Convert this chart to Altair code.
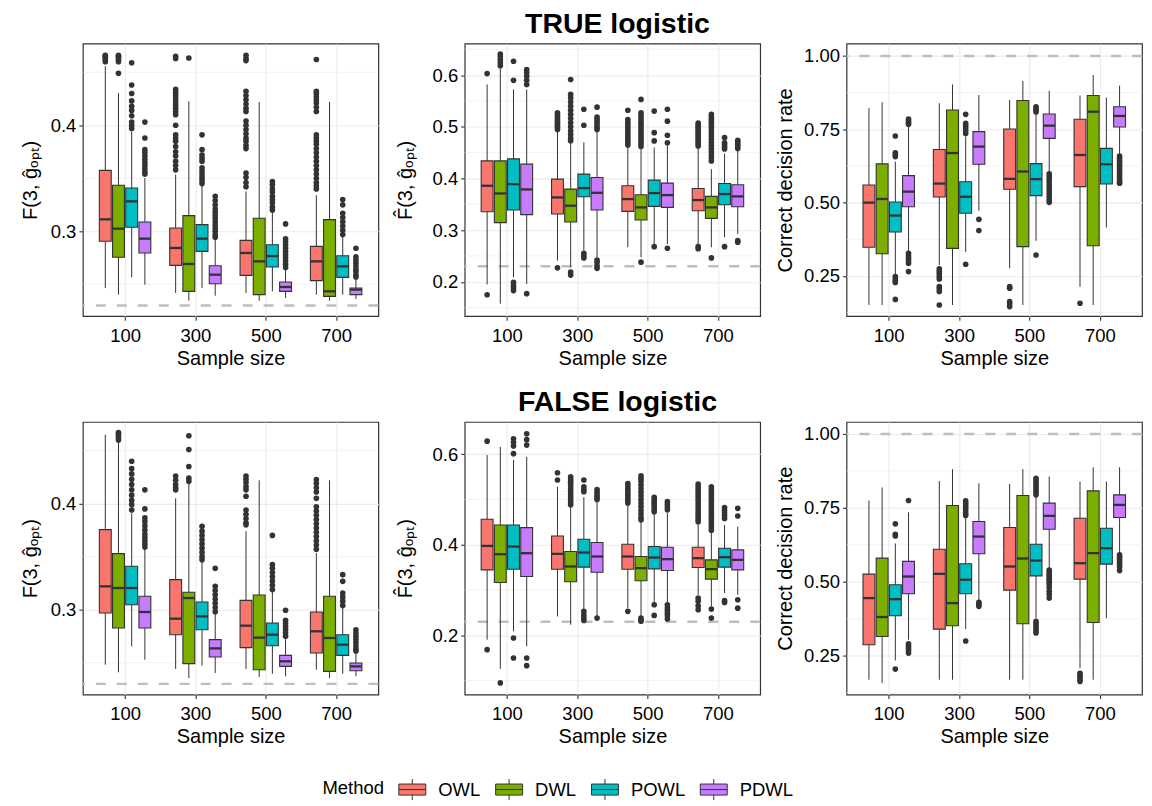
import altair as alt
import pandas as pd

FONT = "Liberation Sans"
SIZES = ["100", "300", "500", "700"]
METHODS = ["OWL", "DWL", "POWL", "PDWL"]
COLORS = ["#F8766D", "#7CAE00", "#00BFC4", "#C77CFF"]

# order of every 16-long array: for size in SIZES, for method in METHODS
# ---------------- TRUE logistic : F(3, g_opt)
T1_Q3 = [0.3575, 0.3434, 0.3409, 0.3088, 0.3031, 0.3148, 0.3063, 0.2676, 0.2915, 0.3123, 0.2874, 0.2522, 0.2858, 0.3110, 0.2770, 0.2465]
T1_MED = [0.3113, 0.3025, 0.3283, 0.2931, 0.2843, 0.2692, 0.2931, 0.2591, 0.2796, 0.2717, 0.2767, 0.2475, 0.2717, 0.2434, 0.2670, 0.2450]
T1_Q1 = [0.2906, 0.2755, 0.3038, 0.2796, 0.2679, 0.2434, 0.2811, 0.2506, 0.2585, 0.2403, 0.2664, 0.2434, 0.2535, 0.2387, 0.2566, 0.2403]
T1_LO = [0.2465, 0.2403, 0.2566, 0.2497, 0.2418, 0.2346, 0.2465, 0.2393, 0.2418, 0.2346, 0.2434, 0.2371, 0.2403, 0.2346, 0.2403, 0.2362]
T1_HI = [0.4557, 0.4305, 0.3940, 0.3503, 0.3535, 0.4226, 0.3434, 0.2931, 0.3377, 0.4220, 0.3173, 0.2654, 0.3340, 0.4220, 0.2950, 0.2555]
T1_OUT = [
    [0.460, 0.462, 0.464, 0.465, 0.466],
    [0.449, 0.460, 0.462, 0.464, 0.465, 0.466],
    [0.459, 0.438, 0.430, 0.423, 0.418, 0.414, 0.409, 0.403, 0.400, 0.397],
    [0.403, 0.388, 0.377, 0.374, 0.371, 0.368, 0.365, 0.362, 0.359, 0.356, 0.354],
    [0.465, 0.463, 0.434, 0.431, 0.428, 0.425, 0.422, 0.419, 0.416, 0.413, 0.410, 0.400, 0.391, 0.388, 0.385, 0.380, 0.375, 0.371, 0.366, 0.362, 0.358],
    [0.4635],
    [0.391, 0.377, 0.372, 0.369, 0.366, 0.360, 0.357, 0.354, 0.351, 0.348, 0.345],
    [0.333, 0.329, 0.325, 0.321, 0.318, 0.315, 0.312, 0.309, 0.306, 0.303, 0.300, 0.297, 0.2945],
    [0.466, 0.463, 0.461, 0.432, 0.428, 0.424, 0.420, 0.416, 0.413, 0.404, 0.400, 0.396, 0.392, 0.388, 0.385, 0.381, 0.378, 0.355, 0.351, 0.346, 0.342],
    [],
    [0.347, 0.344, 0.340, 0.337, 0.333, 0.330, 0.327, 0.323, 0.320],
    [0.307, 0.293, 0.290, 0.287, 0.284, 0.281, 0.278, 0.275, 0.272, 0.269, 0.266],
    [0.462, 0.432, 0.430, 0.427, 0.424, 0.421, 0.417, 0.413, 0.391, 0.388, 0.385, 0.382, 0.378, 0.374, 0.370, 0.366, 0.362, 0.358, 0.354, 0.350, 0.346, 0.343, 0.340],
    [],
    [0.330, 0.325, 0.317, 0.313, 0.309, 0.305, 0.301, 0.297],
    [0.284, 0.276, 0.273, 0.270, 0.267, 0.264, 0.262, 0.259, 0.257],
]

# ---------------- TRUE logistic : F-hat(3, g_opt)
T2_Q3 = [0.434, 0.434, 0.438, 0.4277, 0.3987, 0.3794, 0.4084, 0.402, 0.3859, 0.3685, 0.3968, 0.391, 0.3807, 0.3653, 0.3904, 0.3878]
T2_MED = [0.3859, 0.371, 0.389, 0.3788, 0.3633, 0.3473, 0.3814, 0.3723, 0.3601, 0.344, 0.3717, 0.3678, 0.3582, 0.344, 0.3698, 0.3653]
T2_Q1 = [0.3357, 0.3145, 0.339, 0.33, 0.3312, 0.3158, 0.3646, 0.339, 0.3363, 0.3196, 0.346, 0.344, 0.3376, 0.3228, 0.3492, 0.3453]
T2_LO = [0.195, 0.1576, 0.209, 0.196, 0.241, 0.228, 0.2605, 0.2476, 0.267, 0.2476, 0.2733, 0.273, 0.273, 0.267, 0.286, 0.2926]
T2_HI = [0.582, 0.612, 0.572, 0.572, 0.492, 0.4695, 0.470, 0.492, 0.463, 0.4566, 0.460, 0.463, 0.460, 0.418, 0.448, 0.4534]
T2_OUT = [
    [0.603, 0.175],
    [0.618, 0.624, 0.630, 0.636, 0.641],
    [0.627, 0.590, 0.199, 0.193, 0.188, 0.183],
    [0.611, 0.605, 0.598, 0.590, 0.582, 0.177],
    [0.495, 0.499, 0.503, 0.507, 0.511, 0.515, 0.519, 0.523, 0.527, 0.227],
    [0.5916, 0.563, 0.556, 0.548, 0.540, 0.532, 0.524, 0.516, 0.508, 0.500, 0.492, 0.485, 0.478, 0.473, 0.219, 0.213],
    [0.534, 0.503, 0.255, 0.250, 0.246],
    [0.538, 0.519, 0.514, 0.509, 0.504, 0.499, 0.495, 0.242, 0.238, 0.231, 0.226],
    [0.532, 0.514, 0.509, 0.504, 0.499, 0.494, 0.489, 0.484, 0.479, 0.474, 0.469, 0.465],
    [0.553, 0.527, 0.522, 0.517, 0.512, 0.507, 0.502, 0.497, 0.492, 0.487, 0.482, 0.477, 0.472, 0.467, 0.462, 0.238],
    [0.5305, 0.4887, 0.4727, 0.268],
    [0.534, 0.511, 0.4836, 0.469, 0.265],
    [0.507, 0.503, 0.499, 0.495, 0.491, 0.487, 0.483, 0.479, 0.475, 0.471, 0.467, 0.463, 0.268, 0.264],
    [0.524, 0.519, 0.514, 0.509, 0.504, 0.499, 0.494, 0.488, 0.482, 0.476, 0.470, 0.464, 0.458, 0.452, 0.446, 0.440, 0.434, 0.2463],
    [0.479, 0.469, 0.465, 0.461, 0.457, 0.268],
    [0.474, 0.470, 0.466, 0.462, 0.458, 0.2797, 0.2765],
]

# ---------------- TRUE logistic : correct decision rate
T3_Q3 = [0.560, 0.632, 0.502, 0.592, 0.681, 0.816, 0.571, 0.742, 0.751, 0.848, 0.633, 0.802, 0.784, 0.865, 0.685, 0.827]
T3_MED = [0.500, 0.5125, 0.456, 0.5375, 0.565, 0.669, 0.520, 0.691, 0.581, 0.606, 0.580, 0.7625, 0.6625, 0.810, 0.631, 0.7955]
T3_Q1 = [0.348, 0.326, 0.400, 0.486, 0.519, 0.344, 0.4636, 0.631, 0.5455, 0.350, 0.524, 0.719, 0.5545, 0.353, 0.5636, 0.758]
T3_LO = [0.151, 0.151, 0.253, 0.333, 0.2875, 0.151, 0.331, 0.472, 0.276, 0.151, 0.370, 0.6034, 0.2136, 0.151, 0.415, 0.660]
T3_HI = [0.822, 0.842, 0.640, 0.759, 0.839, 0.903, 0.725, 0.867, 0.850, 0.915, 0.800, 0.881, 0.865, 0.935, 0.858, 0.899]
T3_OUT = [
    [],
    [],
    [0.727, 0.670, 0.663, 0.657, 0.248, 0.240, 0.234, 0.228, 0.170],
    [0.785, 0.779, 0.773, 0.767, 0.327, 0.318, 0.310, 0.302, 0.293, 0.265],
    [0.274, 0.266, 0.258, 0.249, 0.240, 0.214, 0.206, 0.197, 0.151],
    [],
    [0.801, 0.770, 0.762, 0.754, 0.745, 0.736, 0.290],
    [0.443, 0.405],
    [0.2136, 0.208, 0.1625, 0.155, 0.1455],
    [],
    [0.827, 0.821, 0.815, 0.809, 0.3216],
    [0.598, 0.589, 0.580, 0.570, 0.560, 0.550, 0.540, 0.530, 0.520, 0.510, 0.501],
    [0.157],
    [],
    [],
    [0.659, 0.650, 0.641, 0.632, 0.623, 0.614, 0.605, 0.596, 0.587, 0.578, 0.570, 0.566],
]

# ---------------- FALSE logistic : F(3, g_opt)
B1_Q3 = [0.3755, 0.3528, 0.3409, 0.3126, 0.3283, 0.3164, 0.3072, 0.2717, 0.3088, 0.3138, 0.2874, 0.2569, 0.2978, 0.3126, 0.2764, 0.2497]
B1_MED = [0.322, 0.3204, 0.3204, 0.2978, 0.2915, 0.311, 0.2937, 0.2635, 0.2849, 0.2736, 0.2764, 0.2513, 0.2796, 0.2733, 0.267, 0.2465]
B1_Q1 = [0.2969, 0.2827, 0.3047, 0.2827, 0.2764, 0.2491, 0.2811, 0.2553, 0.2642, 0.2434, 0.266, 0.2465, 0.2591, 0.2418, 0.2569, 0.2424]
B1_LO = [0.2481, 0.2409, 0.2654, 0.2528, 0.244, 0.2355, 0.2472, 0.2403, 0.244, 0.2365, 0.2396, 0.2371, 0.2434, 0.2355, 0.2396, 0.2371]
B1_HI = [0.465, 0.4588, 0.391, 0.3572, 0.405, 0.4195, 0.3456, 0.2967, 0.374, 0.422, 0.3173, 0.2721, 0.3535, 0.422, 0.3031, 0.2603]
B1_OUT = [
    [],
    [0.460, 0.462, 0.464, 0.466, 0.467],
    [0.440, 0.433, 0.428, 0.423, 0.418, 0.413, 0.408, 0.403, 0.399, 0.394],
    [0.413, 0.395, 0.3865, 0.383, 0.379, 0.375, 0.371, 0.368, 0.365, 0.362, 0.359],
    [0.426, 0.422, 0.418, 0.415, 0.413],
    [0.464, 0.451, 0.435, 0.424, 0.421],
    [0.3786, 0.374, 0.370, 0.366, 0.362, 0.358, 0.354, 0.350, 0.347],
    [0.339, 0.322, 0.318, 0.314, 0.310, 0.306, 0.302, 0.298],
    [0.426, 0.423, 0.420, 0.416, 0.413, 0.407, 0.394, 0.390, 0.386, 0.382, 0.380],
    [],
    [0.370, 0.3425, 0.339, 0.335, 0.331, 0.327, 0.323, 0.319],
    [0.2994, 0.290, 0.287, 0.284, 0.281, 0.278, 0.275],
    [0.4226, 0.419, 0.415, 0.411, 0.405, 0.397, 0.393, 0.389, 0.385, 0.381, 0.377, 0.373, 0.369, 0.365, 0.361, 0.357],
    [],
    [0.333, 0.3267, 0.3157, 0.312, 0.308, 0.304],
    [0.281, 0.278, 0.275, 0.272, 0.269, 0.266, 0.263, 0.261],
]

# ---------------- FALSE logistic : F-hat(3, g_opt)
B2_Q3 = [0.4561, 0.4437, 0.4437, 0.4378, 0.4194, 0.385, 0.4121, 0.4048, 0.4011, 0.374, 0.396, 0.3945, 0.3945, 0.3666, 0.3923, 0.3886]
B2_MED = [0.3974, 0.3791, 0.396, 0.3813, 0.3798, 0.352, 0.3827, 0.374, 0.374, 0.3483, 0.3717, 0.3681, 0.3703, 0.3461, 0.3725, 0.3666]
B2_Q1 = [0.3446, 0.3167, 0.346, 0.33, 0.346, 0.3182, 0.3505, 0.3394, 0.346, 0.3204, 0.3468, 0.3431, 0.3497, 0.324, 0.3505, 0.3446]
B2_LO = [0.1905, 0.1259, 0.2088, 0.1758, 0.2418, 0.2235, 0.2565, 0.2418, 0.2602, 0.2418, 0.2727, 0.2727, 0.2896, 0.2639, 0.2932, 0.2896]
B2_HI = [0.598, 0.616, 0.587, 0.594, 0.528, 0.484, 0.505, 0.497, 0.4877, 0.451, 0.4694, 0.4694, 0.4473, 0.428, 0.4437, 0.44]
B2_OUT = [
    [0.6286, 0.1684],
    [0.095],
    [0.634, 0.626, 0.618, 0.601, 0.194, 0.150],
    [0.645, 0.632, 0.620, 0.150, 0.133],
    [0.559, 0.543],
    [0.550, 0.545, 0.540, 0.535, 0.530, 0.524, 0.518, 0.512, 0.506, 0.500, 0.494, 0.488],
    [0.543, 0.528, 0.522, 0.517, 0.253, 0.245, 0.239, 0.233],
    [0.522, 0.516, 0.510, 0.505, 0.500, 0.238],
    [0.535, 0.530, 0.524, 0.519, 0.513, 0.508, 0.502, 0.497, 0.492, 0.253],
    [0.552, 0.546, 0.540, 0.532, 0.524, 0.516, 0.508, 0.500, 0.492, 0.484, 0.476, 0.468, 0.460, 0.455, 0.238, 0.234, 0.231],
    [0.5046, 0.499, 0.494, 0.489, 0.484, 0.478, 0.473, 0.2675, 0.244],
    [0.495, 0.489, 0.483, 0.477, 0.2675, 0.261, 0.255, 0.249, 0.243, 0.236],
    [0.534, 0.528, 0.522, 0.516, 0.510, 0.504, 0.498, 0.492, 0.486, 0.480, 0.474, 0.468, 0.462, 0.456, 0.451, 0.282, 0.275, 0.265, 0.2565],
    [0.528, 0.522, 0.516, 0.510, 0.504, 0.498, 0.492, 0.486, 0.480, 0.474, 0.468, 0.462, 0.456, 0.450, 0.444, 0.438, 0.432, 0.258, 0.238],
    [0.482, 0.476, 0.470, 0.464, 0.458, 0.277, 0.2727],
    [0.4804, 0.4635, 0.2785, 0.26],
]

# ---------------- FALSE logistic : correct decision rate
B3_Q3 = [0.526, 0.580, 0.490, 0.569, 0.610, 0.758, 0.561, 0.704, 0.6836, 0.7917, 0.627, 0.766, 0.715, 0.8074, 0.681, 0.794]
B3_MED = [0.445, 0.381, 0.4414, 0.518, 0.527, 0.428, 0.507, 0.653, 0.5518, 0.5788, 0.572, 0.723, 0.563, 0.597, 0.6137, 0.760]
B3_Q1 = [0.287, 0.3153, 0.385, 0.4595, 0.340, 0.3514, 0.4595, 0.595, 0.4718, 0.358, 0.520, 0.678, 0.509, 0.3626, 0.5597, 0.7173]
B3_LO = [0.169, 0.158, 0.234, 0.304, 0.169, 0.169, 0.340, 0.4336, 0.169, 0.169, 0.377, 0.546, 0.208, 0.169, 0.377, 0.597]
B3_HI = [0.775, 0.819, 0.630, 0.735, 0.841, 0.881, 0.715, 0.833, 0.831, 0.881, 0.788, 0.856, 0.839, 0.8874, 0.839, 0.8874]
B3_OUT = [
    [],
    [],
    [0.696, 0.661, 0.655, 0.205],
    [0.775, 0.290, 0.283, 0.276, 0.268, 0.259],
    [],
    [],
    [0.774, 0.766, 0.758, 0.750, 0.741, 0.732, 0.724, 0.300],
    [0.431, 0.424, 0.417],
    [],
    [],
    [0.850, 0.842, 0.834, 0.826, 0.818, 0.810, 0.802, 0.794, 0.366, 0.358, 0.350, 0.342, 0.334, 0.327],
    [0.540, 0.533, 0.526, 0.519, 0.512, 0.505, 0.498, 0.490, 0.480, 0.468, 0.457, 0.445],
    [0.191, 0.184, 0.177, 0.170, 0.163],
    [],
    [],
    [0.591, 0.583, 0.575, 0.567, 0.559, 0.550, 0.538],
]

REF_F = 0.23
REF_RATE = 1.0
YT_F = "F(3, ĝₒₚₜ)"
YT_FHAT = "F̂(3, ĝₒₚₜ)"
YT_RATE = "Correct decision rate"

# ---------------------------------------------------------------- layout
W, H = 296, 273
DODGE = 0.75 / 4
HALF = DODGE * 0.9 / 2
LABEL_EXPR = "[" + ",".join("'%s'" % s for s in SIZES) + "][datum.value - 1]"

BOX_PATH = "M-1,-0.41H1V0.41H-1Z M0,-0.41V-0.78 M0,0.41V0.78 M-1,0H1"
LEGEND = alt.Legend(
    orient="none", legendX=240, legendY=733, direction="horizontal",
    title="Method", titleOrient="left", titleFont=FONT, titleFontSize=18.5,
    titleFontWeight="normal", titleColor="black", titlePadding=14,
    labelFont=FONT, labelFontSize=18.5, labelColor="black", labelOffset=12,
    columnPadding=12, symbolType=BOX_PATH, symbolSize=729,
    symbolStrokeColor="#333333", symbolStrokeWidth=1, symbolOpacity=1,
)


def xenc(field):
    ax = alt.Axis(values=[1, 2, 3, 4], labelExpr=LABEL_EXPR, title="Sample size",
                  grid=True, labelBaseline="middle", labelPadding=15,
                  titleY=42, titleBaseline="middle")
    sc = alt.Scale(domain=[0.4, 4.6], nice=False, zero=False)
    return alt.X(field + ":Q", scale=sc, axis=ax)


def yenc(field, spec):
    ax = alt.Axis(values=spec["major"], format=spec["fmt"], title=spec["title"], grid=True,
                  labelPadding=3, titleX=spec["tx"], titleY=H / 2, titleAngle=270,
                  titleAlign="center", titleBaseline="middle")
    sc = alt.Scale(domain=spec["domain"], nice=False, zero=False)
    return alt.Y(field + ":Q", scale=sc, axis=ax)


def panel(q1, med, q3, lo, hi, outs, spec, title=None):
    rows, pts = [], []
    for g in range(len(SIZES)):
        for m in range(len(METHODS)):
            i = g * len(METHODS) + m
            c = g + 1 + (m - 1.5) * DODGE
            rows.append(dict(method=METHODS[m], c=c, l=c - HALF, r=c + HALF,
                             lo=lo[i], q1=q1[i], med=med[i], q3=q3[i], hi=hi[i]))
            for v in outs[i]:
                pts.append(dict(c=c, v=v))
    box = pd.DataFrame(rows)
    out = pd.DataFrame(pts)
    minor = pd.DataFrame({"v": spec["minor"]})
    ref = pd.DataFrame({"v": [spec["ref"]]})

    l_minor = alt.Chart(minor).mark_rule(color="#EBEBEB", strokeWidth=0.6).encode(y=yenc("v", spec))
    l_ref = alt.Chart(ref).mark_rule(color="#BEBEBE", strokeWidth=2.4, strokeDash=[10, 11]).encode(
        y=yenc("v", spec))
    l_wh = alt.Chart(box).mark_rule(color="#333333", strokeWidth=1).encode(
        x=xenc("c"), y=yenc("lo", spec), y2="hi")
    l_box = alt.Chart(box).mark_bar(stroke="#333333", strokeWidth=1.1, opacity=1).encode(
        x=xenc("l"), x2="r", y=yenc("q1", spec), y2="q3",
        color=alt.Color("method:N", scale=alt.Scale(domain=METHODS, range=COLORS), legend=LEGEND))
    l_med = alt.Chart(box).mark_rule(color="#333333", strokeWidth=2.3).encode(
        x=xenc("l"), x2="r", y=yenc("med", spec))
    l_out = alt.Chart(out).mark_circle(size=32, color="#333333", opacity=1).encode(
        x=xenc("c"), y=yenc("v", spec))
    ch = alt.layer(l_minor, l_ref, l_wh, l_box, l_med, l_out).properties(width=W, height=H)
    if title:
        ch = ch.properties(title=alt.TitleParams(
            title, anchor="middle", frame="group", fontSize=28.5, fontWeight="bold",
            font=FONT, color="black", baseline="alphabetic", offset=-18, dx=5))
    return ch


S_T1 = dict(domain=[0.220, 0.477], major=[0.3, 0.4], minor=[0.25, 0.35, 0.45], fmt=".1f",
            ref=REF_F, title=YT_F, tx=-52.5)
S_T2 = dict(domain=[0.1335, 0.661], major=[0.2, 0.3, 0.4, 0.5, 0.6],
            minor=[0.15, 0.25, 0.35, 0.45, 0.55, 0.65], fmt=".1f", ref=REF_F, title=YT_FHAT, tx=-59.5)
S_T3 = dict(domain=[0.113, 1.042], major=[0.25, 0.5, 0.75, 1.0], minor=[0.125, 0.375, 0.625, 0.875],
            fmt=".2f", ref=REF_RATE, title=YT_RATE, tx=-61.5)
S_B1 = dict(S_T1)
S_B2 = dict(domain=[0.0694, 0.671], major=[0.2, 0.4, 0.6], minor=[0.1, 0.3, 0.5], fmt=".1f",
            ref=REF_F, title=YT_FHAT, tx=-59.5)
S_B3 = dict(domain=[0.119, 1.0405], major=[0.25, 0.5, 0.75, 1.0], minor=[0.125, 0.375, 0.625, 0.875],
            fmt=".2f", ref=REF_RATE, title=YT_RATE, tx=-61.5)

charts = [
    panel(T1_Q1, T1_MED, T1_Q3, T1_LO, T1_HI, T1_OUT, S_T1),
    panel(T2_Q1, T2_MED, T2_Q3, T2_LO, T2_HI, T2_OUT, S_T2, "TRUE logistic"),
    panel(T3_Q1, T3_MED, T3_Q3, T3_LO, T3_HI, T3_OUT, S_T3),
    panel(B1_Q1, B1_MED, B1_Q3, B1_LO, B1_HI, B1_OUT, S_B1),
    panel(B2_Q1, B2_MED, B2_Q3, B2_LO, B2_HI, B2_OUT, S_B2, "FALSE logistic"),
    panel(B3_Q1, B3_MED, B3_Q3, B3_LO, B3_HI, B3_OUT, S_B3),
]

chart = alt.concat(*charts, columns=3, spacing={"row": 106, "column": 86.5}, bounds="flush").properties(
    padding={"left": 11, "top": 0, "right": 0, "bottom": 0}
).configure_view(
    stroke="#333333", strokeWidth=1.2
).configure_axis(
    domain=False, tickColor="#333333", tickSize=4, tickWidth=1.1,
    labelColor="black", labelFont=FONT, labelFontSize=18.5,
    titleFont=FONT, titleFontSize=20, titleFontWeight="normal", titleColor="black",
    gridColor="#EBEBEB", gridWidth=1.1,
)

chart.save("out.html", embed_options={"renderer": "svg", "actions": False})
